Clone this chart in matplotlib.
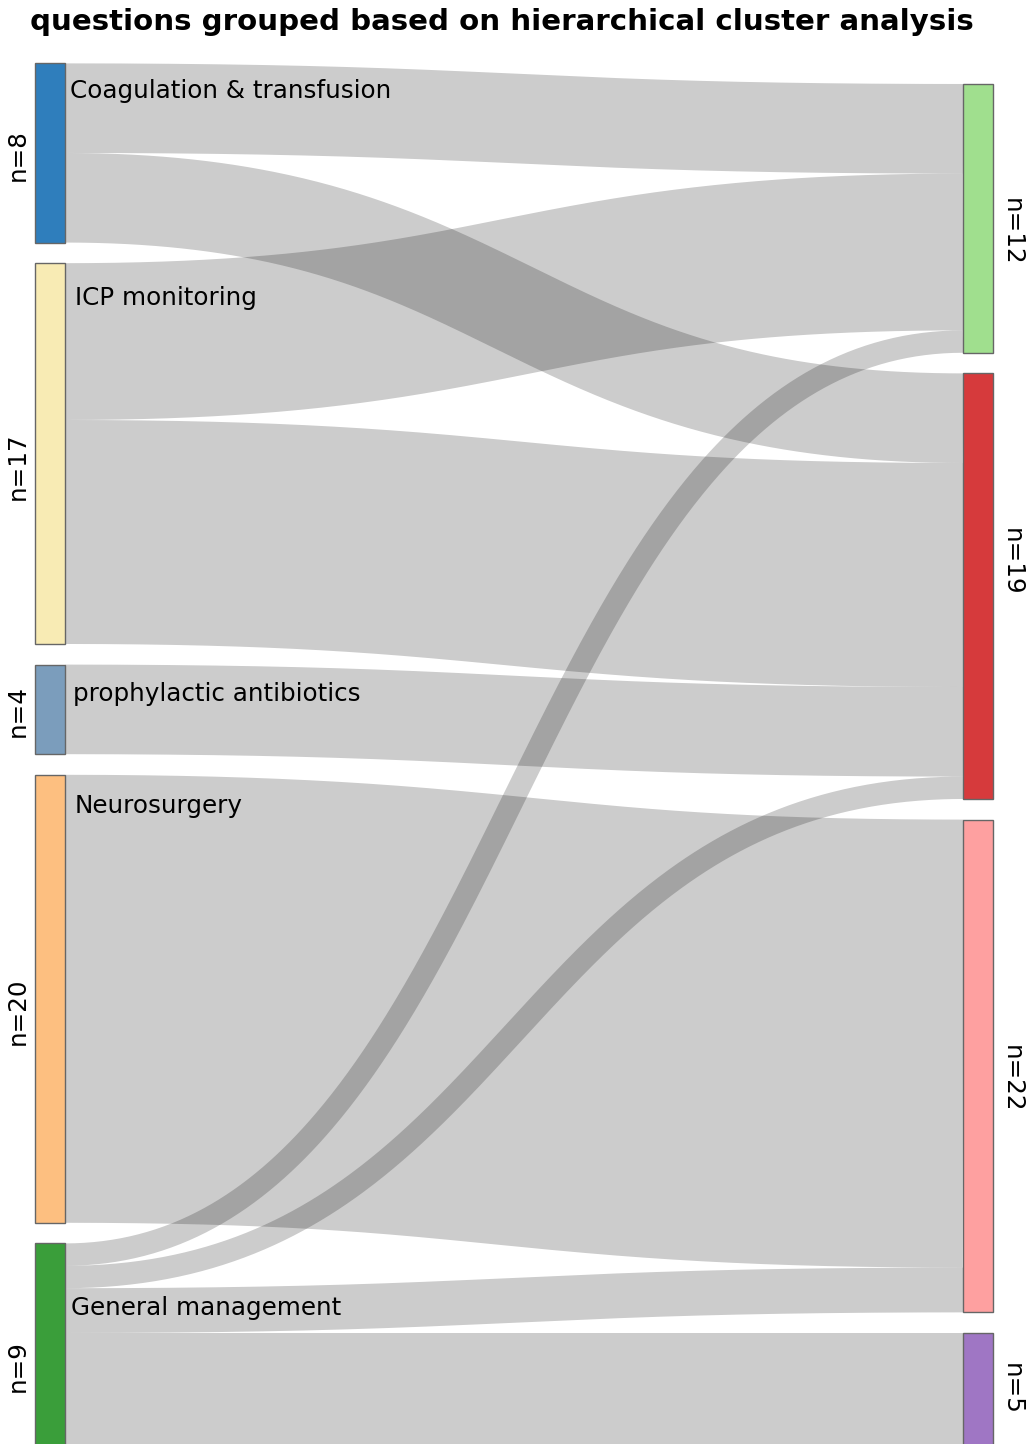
"""
Sankey chart: questions grouped based on hierarchical cluster analysis.
"""
import matplotlib
matplotlib.use("Agg")
import matplotlib.pyplot as plt
import numpy as np

# ── Data ─────────────────────────────────────────────────────────────────────
SOURCES = [
    "Coagulation & transfusion",
    "ICP monitoring",
    "prophylactic antibiotics",
    "Neurosurgery",
    "General management",
]
TARGETS = ["cluster 1", "cluster 2", "cluster 3", "cluster 4"]

# rows = sources, columns = targets (number of questions)
FLOWS = np.array([
    [4, 4, 0, 0],
    [7, 10, 0, 0],
    [0, 4, 0, 0],
    [0, 0, 20, 0],
    [1, 1, 2, 5],
])

SOURCE_COLORS = ["#2f7ebc", "#f8ebb4", "#7b9dbc", "#fdbf80", "#3a9e3a"]
TARGET_COLORS = ["#a0df8e", "#d63a3c", "#fea0a0", "#9f76c4"]

# ── Layout (pixels / style) ─────────────────────────────────────────────────
W, H = 1027, 1444
DPI = 100
PX_PER_UNIT = 22.4
GAP = 0.92            # gap between nodes, in question units
BOTTOM_PX = 1445      # pixel row where both columns end
LEFT_X = (35, 65)
RIGHT_X = (963, 993)
LABEL_DY = [28, 35, 29, 31, 65]   # label offset below node top (px)
LABEL_X = [70, 75, 73, 75, 71]
SRC_N_DY = [2, 13, 2, 12, 22]     # n= label shift from node centre (px, down)
TGT_N_DY = [13, -24, 13, 0]
LINK_COLOR = (0, 0, 0, 0.2)
FONT = 17.7


def _stack(sizes):
    """Return (top, bottom) of stacked nodes, data units, stacked from y=0 up."""
    total = sum(sizes) + GAP * (len(sizes) - 1)
    out = []
    top = total
    for s in sizes:
        out.append((top, top - s))
        top = top - s - GAP
    return out


def _px_to_y(px):
    return (BOTTOM_PX - px) / PX_PER_UNIT


src_sizes = FLOWS.sum(axis=1)
tgt_sizes = FLOWS.sum(axis=0)
src_nodes = _stack(src_sizes)
tgt_nodes = _stack(tgt_sizes)

fig = plt.figure(figsize=(W / DPI, H / DPI), dpi=DPI)
ax = fig.add_axes([0, 0, 1, 1])
ax.set_xlim(0, W)
ax.set_ylim(_px_to_y(H), _px_to_y(0))
ax.axis("off")

# ── Links (cubic bezier centre line, stroked with the flow's width) ─────────
t = np.linspace(0, 1, 400)
x0, x1 = LEFT_X[1], RIGHT_X[0]
dx = x1 - x0
bx = x0 + dx * (1.5 * t * (1 - t) + t ** 3)
by = 3 * t ** 2 - 2 * t ** 3

src_cursor = [top for top, _ in src_nodes]
tgt_cursor = [top for top, _ in tgt_nodes]
for i in range(len(SOURCES)):
    for j in range(len(TARGETS)):
        v = FLOWS[i, j]
        if v == 0:
            continue
        yc0 = src_cursor[i] - v / 2
        yc1 = tgt_cursor[j] - v / 2
        ax.plot(bx, yc0 + (yc1 - yc0) * by, color=LINK_COLOR,
                linewidth=v * PX_PER_UNIT * 72 / DPI, solid_capstyle="butt",
                solid_joinstyle="round", zorder=2)
        src_cursor[i] -= v
        tgt_cursor[j] -= v

# ── Nodes ────────────────────────────────────────────────────────────────────
for i, (top, bot) in enumerate(src_nodes):
    ax.add_patch(plt.Rectangle((LEFT_X[0], bot), LEFT_X[1] - LEFT_X[0], top - bot,
                               facecolor=SOURCE_COLORS[i], edgecolor="#666666",
                               linewidth=1.0, zorder=3))
    ax.text(18, (top + bot) / 2 - SRC_N_DY[i] / PX_PER_UNIT, f"n={src_sizes[i]}",
            rotation=90, ha="center", va="center", fontsize=FONT)
    ax.text(LABEL_X[i], top - LABEL_DY[i] / PX_PER_UNIT, SOURCES[i],
            ha="left", va="center", fontsize=FONT, zorder=4)

for j, (top, bot) in enumerate(tgt_nodes):
    ax.add_patch(plt.Rectangle((RIGHT_X[0], bot), RIGHT_X[1] - RIGHT_X[0], top - bot,
                               facecolor=TARGET_COLORS[j], edgecolor="#666666",
                               linewidth=1.0, zorder=3))
    ax.text(1012, (top + bot) / 2 - TGT_N_DY[j] / PX_PER_UNIT, f"n={tgt_sizes[j]}",
            rotation=270, ha="center", va="center", fontsize=FONT)

fig.text(502 / W, 1 - 22 / H, "questions grouped based on hierarchical cluster analysis",
         ha="center", va="center", fontsize=21.1, fontweight="bold")

fig.savefig("out.png", dpi=DPI)
plt.close(fig)
